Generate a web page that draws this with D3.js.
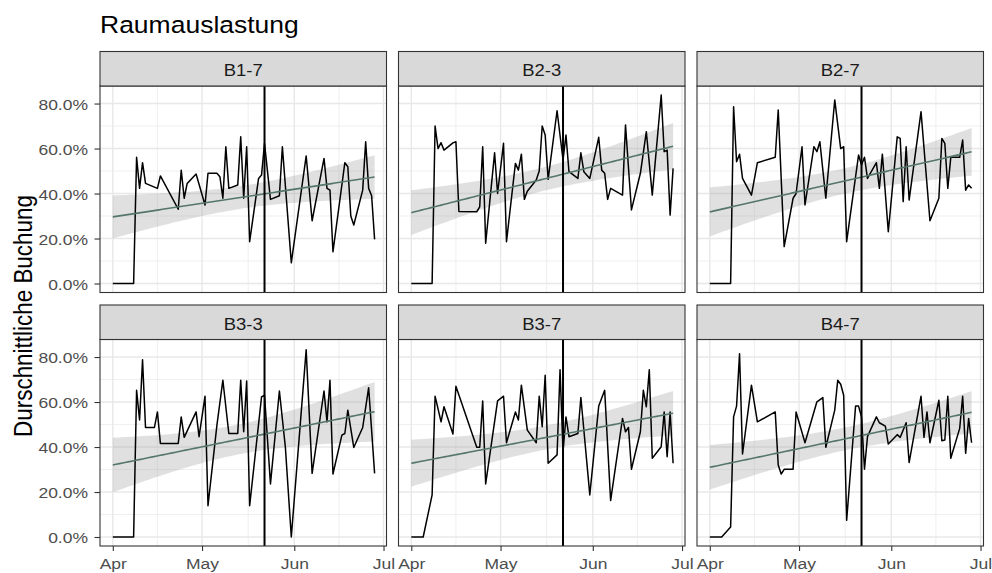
<!DOCTYPE html>
<html><head><meta charset="utf-8">
<script src="https://cdn.jsdelivr.net/npm/d3@7"></script>
<style>
body{margin:0;background:#fff}
svg{display:block}
text{font-family:"Liberation Sans",Arial,Helvetica,sans-serif}
</style>
</head><body>
<svg id="chart" width="992" height="573"></svg>
<script>
// ---------- DATA (day offsets from 2024-04-01, values = share) ----------
const baseDate = "2024-04-01";
const panelNames = ["B1-7","B2-3","B2-7","B3-3","B3-7","B4-7"];

const days_B1_7 = [0,1,2,3,4,7,8,9,10,11,15,16,22,23,24,25,28,31,32,35,36,37,38,39,42,43,44,45,46,49,50,51,53,56,57,60,65,67,71,72,73,74,78,79,80,81,84,85,86,87,88];
const vals_B1_7 = [0,0,0,0,0,0,.561,.423,.537,.445,.423,.478,.33,.504,.379,.445,.487,.349,.49,.49,.475,.379,.608,.423,.438,.652,.379,.608,.186,.467,.482,.623,.374,.39,.608,.092,.567,.279,.556,.423,.415,.141,.537,.519,.30,.26,.415,.63,.423,.39,.196];

const days_B2_3 = [0,1,2,3,4,7,8,9,10,11,14,15,16,22,23,24,25,28,29,31,32,35,36,37,38,39,42,43,44,45,46,49,51,52,53,56,57,58,60,63,64,65,66,67,71,72,74,77,79,81,84,85,86,87,88];
const vals_B2_3 = [0,0,0,0,0,0,.70,.60,.626,.593,.625,.63,.32,.319,.341,.608,.179,.581,.40,.623,.186,.534,.504,.575,.374,.41,.46,.50,.70,.66,.463,.768,.549,.66,.497,.467,.581,.497,.467,.65,.504,.49,.374,.423,.393,.705,.327,.49,.675,.393,.838,.586,.593,.304,.512];

const days_B2_7 = [0,1,2,3,4,7,8,9,10,11,14,16,22,23,25,28,29,31,32,35,36,37,39,42,44,45,46,50,51,52,53,56,57,58,60,63,64,65,66,67,71,74,77,78,79,80,81,84,85,86,87,88];
const vals_B2_7 = [0,0,0,0,0,0,.786,.541,.575,.467,.393,.537,.561,.771,.164,.379,.40,.608,.349,.608,.586,.63,.379,.816,.60,.608,.186,.571,.527,.561,.467,.537,.423,.575,.23,.652,.645,.364,.608,.371,.764,.279,.379,.645,.623,.423,.561,.561,.638,.415,.438,.423];

const days_B3_3 = [0,1,2,3,4,7,8,9,10,11,14,15,16,22,23,24,28,29,31,32,35,37,39,42,43,44,45,46,50,51,53,56,58,60,65,67,71,72,73,74,77,78,79,81,84,86,88];
const vals_B3_3 = [0,0,0,0,0,0,.652,.52,.788,.487,.487,.556,.416,.416,.534,.443,.556,.446,.626,.139,.497,.697,.46,.46,.697,.468,.694,.139,.623,.63,.236,.649,.401,0,.832,.283,.649,.512,.697,.28,.453,.46,.564,.398,.487,.664,.283];

const days_B3_7 = [0,1,2,3,4,7,8,10,11,14,15,22,23,24,25,29,31,32,35,36,37,39,42,43,44,45,46,49,50,51,52,53,56,57,60,63,65,67,71,72,73,74,77,78,79,80,81,84,85,86,87,88];
const vals_B3_7 = [0,0,0,0,0,.187,.626,.512,.579,.458,.67,.399,.399,.605,.236,.605,.626,.419,.556,.52,.675,.475,.419,.626,.49,.719,.328,.365,.744,.379,.534,.446,.46,.62,.187,.582,.652,.162,.527,.468,.487,.301,.468,.652,.579,.744,.35,.401,.556,.357,.556,.328];

const days_B4_7 = [0,1,2,3,4,7,8,9,10,11,14,16,22,23,24,25,28,29,32,36,38,39,42,43,44,45,46,49,50,51,52,53,56,57,59,60,63,64,66,67,71,72,73,74,77,78,79,80,81,84,85,86,87,88];
const vals_B4_7 = [0,0,0,0,0,.044,.534,.582,.815,.369,.675,.512,.556,.32,.28,.301,.301,.556,.419,.601,.62,.399,.564,.697,.679,.63,.074,.582,.582,.534,.301,.446,.534,.508,.493,.413,.455,.443,.508,.331,.626,.443,.556,.419,.608,.428,.431,.626,.35,.483,.626,.372,.527,.419];

const yTickValues = [0, 0.2, 0.4, 0.6, 0.8];
const yMinorValues = [0.1, 0.3, 0.5, 0.7];
const cutoffDate = "2024-05-22";
const titleText = "Raumauslastung";
const yTitleText = "Durschnittliche Buchung";

// ---------- helpers ----------
const base = d3.utcParse("%Y-%m-%d")(baseDate);
const toDate = d => new Date(base.getTime() + d * 864e5);
const series = [
  {name: panelNames[0], days: days_B1_7, vals: vals_B1_7},
  {name: panelNames[1], days: days_B2_3, vals: vals_B2_3},
  {name: panelNames[2], days: days_B2_7, vals: vals_B2_7},
  {name: panelNames[3], days: days_B3_3, vals: vals_B3_3},
  {name: panelNames[4], days: days_B3_7, vals: vals_B3_7},
  {name: panelNames[5], days: days_B4_7, vals: vals_B4_7}
];

function tQuantile(p, df) {
  const a = [2.515517, 0.802853, 0.010328], b = [1.432788, 0.189269, 0.001308];
  const q = 1 - p, t0 = Math.sqrt(-2 * Math.log(q));
  const z = t0 - (a[0] + a[1]*t0 + a[2]*t0*t0) / (1 + b[0]*t0 + b[1]*t0*t0 + b[2]*t0*t0*t0);
  const g1 = (z**3 + z) / 4, g2 = (5*z**5 + 16*z**3 + 3*z) / 96, g3 = (3*z**7 + 19*z**5 + 17*z**3 - 15*z) / 384;
  return z + g1/df + g2/df**2 + g3/df**3;
}

function lmFit(xs, ys) {
  const n = xs.length, mx = d3.mean(xs), my = d3.mean(ys);
  let sxx = 0, sxy = 0;
  for (let i = 0; i < n; i++) { sxx += (xs[i]-mx)**2; sxy += (xs[i]-mx)*(ys[i]-my); }
  const b = sxy / sxx, a = my - b*mx;
  let rss = 0;
  for (let i = 0; i < n; i++) rss += (ys[i] - a - b*xs[i])**2;
  const s = Math.sqrt(rss / (n-2)), t = tQuantile(0.975, n-2);
  const x0 = d3.min(xs), x1 = d3.max(xs);
  return d3.range(80).map(k => {
    const x = x0 + (x1-x0)*k/79, f = a + b*x;
    const se = s * Math.sqrt(1/n + (x-mx)**2/sxx);
    return {x, f, lo: f - t*se, hi: f + t*se};
  });
}

// ---------- layout ----------
const svg = d3.select("#chart");
const colLeft = [100, 398.5, 697], pw = 286.5;
const stripTop = [51.5, 305], stripH = 34.5, ph = 206.5;
const sy = 0.88; // vertical squeeze of glyphs
const fs = 17.5;

svg.append("text").attr("transform", `translate(100,33) scale(1,${sy})`)
  .attr("font-size", 26.5).attr("fill", "#000").text(titleText);

svg.append("text").attr("transform", `translate(32,316) rotate(-90) scale(${sy},1)`)
  .attr("text-anchor", "middle").attr("font-size", 25.5).attr("fill", "#000").text(yTitleText);

const xDomain = [toDate(-4.3), toDate(92.0)];
const monthTicks = d3.utcMonth.range(toDate(0), toDate(92));
const monthMinor = d3.pairs(monthTicks).map(([a,b]) => new Date((a.getTime()+b.getTime())/2));

series.forEach((s, i) => {
  const col = i % 3, row = Math.floor(i / 3);
  const left = colLeft[col], sTop = stripTop[row], top = sTop + stripH, bottom = top + ph;
  const x = d3.scaleUtc().domain(xDomain).range([left, left + pw]);
  const y = d3.scaleLinear().domain([-0.04, 0.878]).range([bottom, top]);
  const g = svg.append("g");
  const clipId = "clip" + i;
  svg.append("clipPath").attr("id", clipId).append("rect")
    .attr("x", left).attr("y", top).attr("width", pw).attr("height", ph);

  // grid
  const grid = g.append("g");
  grid.selectAll(".ymin").data(yMinorValues).join("line")
    .attr("x1", left).attr("x2", left+pw).attr("y1", d => y(d)).attr("y2", d => y(d))
    .attr("stroke", "#ebebeb").attr("stroke-width", 0.8);
  grid.selectAll(".xmin").data(monthMinor).join("line")
    .attr("y1", top).attr("y2", bottom).attr("x1", d => x(d)).attr("x2", d => x(d))
    .attr("stroke", "#ebebeb").attr("stroke-width", 0.8);
  grid.selectAll(".ymaj").data(yTickValues).join("line")
    .attr("x1", left).attr("x2", left+pw).attr("y1", d => y(d)).attr("y2", d => y(d))
    .attr("stroke", "#e8e8e8").attr("stroke-width", 1.4);
  grid.selectAll(".xmaj").data(monthTicks).join("line")
    .attr("y1", top).attr("y2", bottom).attr("x1", d => x(d)).attr("x2", d => x(d))
    .attr("stroke", "#e8e8e8").attr("stroke-width", 1.4);

  const pts = s.days.map((d, k) => ({date: toDate(d), v: s.vals[k]}));
  const fit = lmFit(s.days, s.vals);
  const plot = g.append("g").attr("clip-path", `url(#${clipId})`);

  plot.append("path").datum(fit)
    .attr("d", d3.area().x(d => x(toDate(d.x))).y0(d => y(d.lo)).y1(d => y(d.hi)))
    .attr("fill", "#999999").attr("fill-opacity", 0.3);

  plot.append("path").datum(pts)
    .attr("d", d3.line().x(d => x(d.date)).y(d => y(d.v)))
    .attr("fill", "none").attr("stroke", "#000").attr("stroke-width", 1.5)
    .attr("stroke-linejoin", "round");

  plot.append("path").datum(fit)
    .attr("d", d3.line().x(d => x(toDate(d.x))).y(d => y(d.f)))
    .attr("fill", "none").attr("stroke", "#55766a").attr("stroke-width", 1.6);

  const cd = d3.utcParse("%Y-%m-%d")(cutoffDate);
  plot.append("line").attr("x1", x(cd)).attr("x2", x(cd)).attr("y1", top).attr("y2", bottom)
    .attr("stroke", "#000").attr("stroke-width", 2);

  // panel border
  g.append("rect").attr("x", left).attr("y", top).attr("width", pw).attr("height", ph)
    .attr("fill", "none").attr("stroke", "#333").attr("stroke-width", 1.1);

  // strip
  g.append("rect").attr("x", left).attr("y", sTop).attr("width", pw).attr("height", stripH)
    .attr("fill", "#d9d9d9").attr("stroke", "#333").attr("stroke-width", 1.1);
  g.append("text").attr("transform", `translate(${left + pw/2},${sTop + 24.5}) scale(1,${sy})`)
    .attr("text-anchor", "middle").attr("font-size", 18.5).attr("fill", "#1a1a1a").text(s.name);

  // axes
  if (col === 0) {
    const ax = g.append("g").attr("transform", `translate(${left},0)`)
      .call(d3.axisLeft(y).tickValues(yTickValues).tickFormat(d3.format(".1%")).tickSize(5.5).tickPadding(0));
    ax.select(".domain").remove();
    ax.selectAll(".tick line").attr("stroke", "#333").attr("stroke-width", 1.1);
    ax.selectAll(".tick text").attr("x", -12).attr("dy", null).attr("y", 6.25)
      .attr("transform", `scale(1,${sy})`).attr("font-size", fs).attr("fill", "#4d4d4d")
      .attr("font-family", null);
  }
  if (row === 1) {
    const ax = g.append("g").attr("transform", `translate(0,${bottom})`)
      .call(d3.axisBottom(x).tickValues(monthTicks).tickFormat(d3.utcFormat("%b")).tickSize(5).tickPadding(0));
    ax.select(".domain").remove();
    ax.selectAll(".tick line").attr("stroke", "#333").attr("stroke-width", 1.1);
    ax.selectAll(".tick text").attr("dy", null).attr("y", 23.5 / sy)
      .attr("transform", `scale(1,${sy})`).attr("font-size", fs).attr("fill", "#4d4d4d")
      .attr("font-family", null);
  }
});
</script>
</body></html>
